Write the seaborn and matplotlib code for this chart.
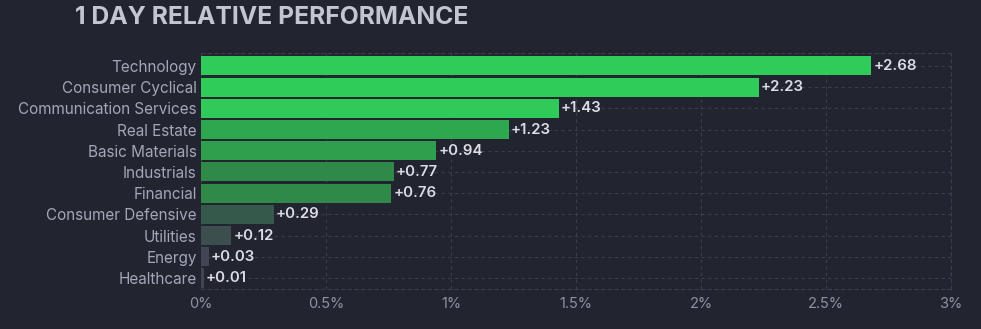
import matplotlib
matplotlib.use("Agg")
import matplotlib.pyplot as plt
import seaborn as sns
import pandas as pd

sectors = ["Technology", "Consumer Cyclical", "Communication Services", "Real Estate",
           "Basic Materials", "Industrials", "Financial", "Consumer Defensive",
           "Utilities", "Energy", "Healthcare"]
values = [2.68, 2.23, 1.43, 1.23, 0.94, 0.77, 0.76, 0.29, 0.12, 0.03, 0.01]
colors = ["#30cc5a", "#30cc5a", "#2fca58", "#2ea84e", "#2f9f4e", "#2f8a4a", "#2f8a4a",
          "#35594b", "#3c4e4d", "#414554", "#414554"]
xticks = [0, 0.5, 1, 1.5, 2, 2.5, 3]
xticklabels = ["0%", "0.5%", "1%", "1.5%", "2%", "2.5%", "3%"]

BG = "#22252f"
sns.set_theme(style="dark")
plt.rcParams["font.family"] = ["Inter", "DejaVu Sans"]

df = pd.DataFrame({"sector": sectors, "value": values})
fig = plt.figure(figsize=(9.81, 3.29), dpi=100, facecolor=BG)
ax = fig.add_axes([201/981, 1-289/329, 750/981, 236/329])
ax.set_facecolor(BG)

sns.barplot(data=df, x="value", y="sector", hue="sector", palette=dict(zip(sectors, colors)),
            order=sectors, legend=False, width=0.9, ax=ax, saturation=1)
for p in ax.patches:
    p.set_edgecolor("none")

for i, v in enumerate(values):
    ax.text(v + 0.01, i, f"+{v:.2f}", va="center", ha="left", color="#dcdde4",
            fontsize=10.8, fontweight="semibold")

ax.set_xlim(0, 3)
ax.set_ylim(10.52, -0.61)
ax.set_xticks(xticks)
ax.set_xticklabels(xticklabels)
ax.grid(True, axis="both", color="#3a3e4c", linestyle=(0, (3, 3)), linewidth=0.8)
ax.set_axisbelow(True)
ax.spines["left"].set_visible(False)
ax.tick_params(axis="x", colors="#8e92a4", labelsize=10.5, length=0, pad=6)
ax.tick_params(axis="y", colors="#a2a6b8", labelsize=11, length=0, pad=3)
ax.set_xlabel("")
ax.set_ylabel("")

for s in ["top", "right", "bottom"]:
    ax.spines[s].set_visible(True)
    ax.spines[s].set_color("#3a3e4c")
    ax.spines[s].set_linestyle((0, (3, 3)))
    ax.spines[s].set_linewidth(0.8)

fig.text(75/981, 1-17/329, "1 DAY RELATIVE PERFORMANCE", color="#c3c5d0",
         fontsize=17.8, fontweight="bold", va="center", ha="left")

fig.savefig("out.png", dpi=100, facecolor=BG)
